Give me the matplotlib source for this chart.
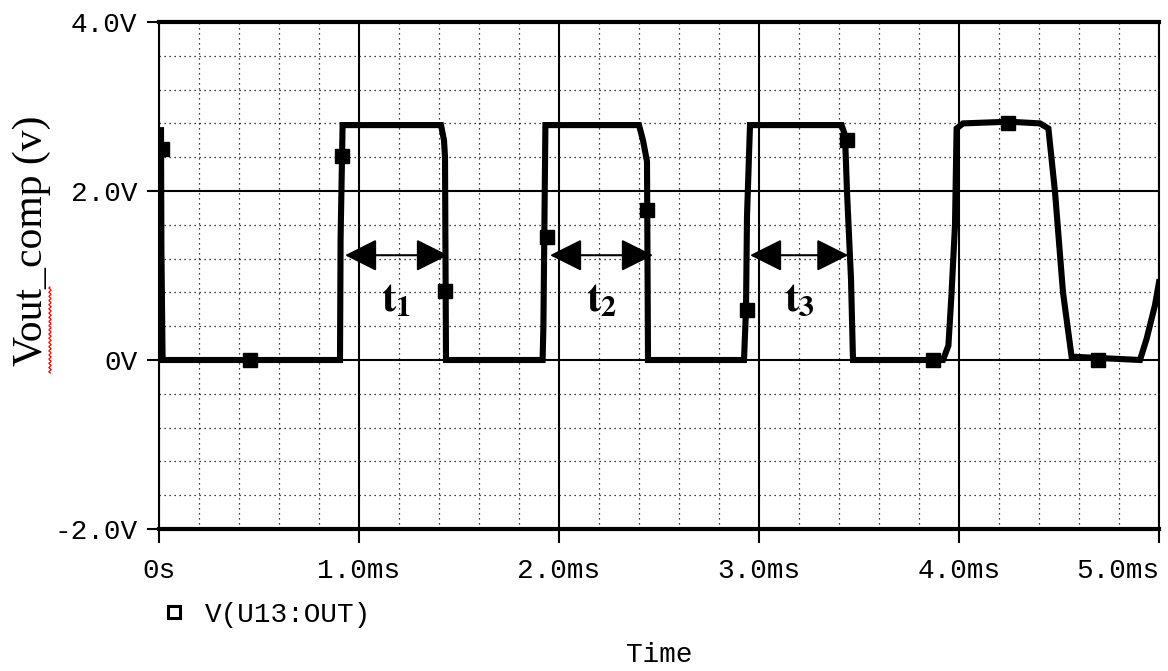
import matplotlib.pyplot as plt
import numpy as np
from matplotlib.lines import Line2D

plt.rcParams['mathtext.fontset'] = 'stix'

# transient output of the comparator, time in ms, volts
t_ms = [0.010, 0.012, 0.018, 0.905, 0.908, 0.918, 1.410, 1.425, 1.430, 1.435,
        1.918, 1.922, 1.932, 2.400, 2.420, 2.440, 2.445, 2.925, 2.935, 2.940,
        2.955, 3.413, 3.430, 3.440, 3.460, 3.470, 3.920, 3.947, 3.963, 3.980,
        3.988, 4.020, 4.250, 4.405, 4.447, 4.480, 4.520, 4.563, 4.905, 4.938,
        4.980, 5.000]
v_out = [2.72, 1.30, 0.00, 0.00, 1.45, 2.78, 2.78, 2.60, 2.40, 0.00,
         0.00, 0.40, 2.78, 2.78, 2.60, 2.35, 0.00, 0.00, 0.60, 1.70,
         2.78, 2.78, 2.66, 1.99, 0.96, 0.00, 0.00, 0.17, 0.80, 1.60,
         2.74, 2.80, 2.82, 2.80, 2.74, 1.99, 0.80, 0.04, 0.00, 0.25,
         0.65, 0.92]

# PSpice trace markers
marker_t = [0.013, 0.455, 0.913, 1.430, 1.938, 2.438, 2.938, 3.438, 3.872, 4.247, 4.697]
marker_v = [2.50, 0.00, 2.42, 0.82, 1.46, 1.77, 0.59, 2.60, 0.00, 2.81, 0.00]

# pulse widths t1..t3
pulse_rise = [0.930, 1.955, 2.955]
pulse_fall = [1.445, 2.470, 3.447]
pulse_names = ['1', '2', '3']
arrow_level = 1.24
name_level = 0.72

x_ticks = [0, 1, 2, 3, 4, 5]
x_labels = ['0s', '1.0ms', '2.0ms', '3.0ms', '4.0ms', '5.0ms']
y_ticks = [-2, 0, 2, 4]
y_labels = ['-2.0V', '0V', '2.0V', '4.0V']

W, H = 1168, 671
mono = 'Liberation Mono'

fig = plt.figure(figsize=(W / 100, H / 100), dpi=100)
ax = fig.add_axes([159 / W, 1 - 529 / H, 1000 / W, 507 / H])

ax.plot(t_ms, v_out, color='black', lw=4.4, zorder=5, solid_joinstyle='miter')
ax.plot(marker_t, marker_v, ls='none', marker='s', ms=9.5, color='black', zorder=6)

for s, e, n in zip(pulse_rise, pulse_fall, pulse_names):
    ax.annotate('', xy=(e, arrow_level), xytext=(s, arrow_level),
                arrowprops=dict(arrowstyle='<|-|>,head_length=0.4,head_width=0.2',
                                mutation_scale=50, lw=1.5, color='black',
                                shrinkA=0, shrinkB=0), zorder=7)
    ax.text((s + e) / 2, name_level, rf'$\mathbf{{t}}_{{\mathbf{{{n}}}}}$',
            fontsize=31, ha='center', va='center', zorder=7)

ax.set_xlim(0, 5)
ax.set_ylim(-2, 4)
ax.set_xticks(x_ticks)
ax.set_xticklabels(x_labels, family=mono, fontsize=20)
ax.set_yticks(y_ticks)
ax.set_yticklabels(y_labels, family=mono, fontsize=20)
ax.get_xticklabels()[-1].set_ha('right')
ax.set_xticks(np.arange(0, 5.01, 0.2), minor=True)
ax.set_yticks(np.arange(-2, 4.01, 0.4), minor=True)

ax.grid(which='major', color='black', lw=1.5, zorder=1)
ax.grid(which='minor', color='black', lw=0.9, ls=(0, (1, 3)), zorder=0)
ax.set_axisbelow(True)
ax.tick_params(which='minor', length=0)
ax.tick_params(axis='y', which='major', length=8.6, width=1.5, pad=7, colors='black')
ax.tick_params(axis='x', which='major', length=10, width=1.5, pad=11, colors='black')

for side, lw in [('left', 1.5), ('right', 1.5), ('top', 3), ('bottom', 3)]:
    ax.spines[side].set_linewidth(lw)

fig.text(32 / W, 1 - 241 / H, 'Vout_comp (v)', rotation=90, family='Liberation Serif',
         fontsize=30, ha='center', va='center')

# spell-check underline under the axis title
yy = np.linspace(287, 373, 80)
xx = 50 + 1.2 * np.sin(yy * 1.5)
fig.add_artist(Line2D(xx / W, 1 - yy / H, color='red', lw=0.9, transform=fig.transFigure))

fig.text(659 / W, 1 - 655 / H, 'Time', family=mono, fontsize=20, ha='center', va='center')

handle = Line2D([], [], ls='none', marker='s', ms=8, mfc='white', mec='black', mew=2.2)
fig.legend([handle], ['V(U13:OUT)'], loc='center left', bbox_to_anchor=(163 / W, 1 - 615 / H),
           frameon=False, prop={'family': mono, 'size': 20}, handlelength=0.8,
           handletextpad=0.7, borderpad=0, borderaxespad=0)

fig.savefig('out.png', dpi=100)
